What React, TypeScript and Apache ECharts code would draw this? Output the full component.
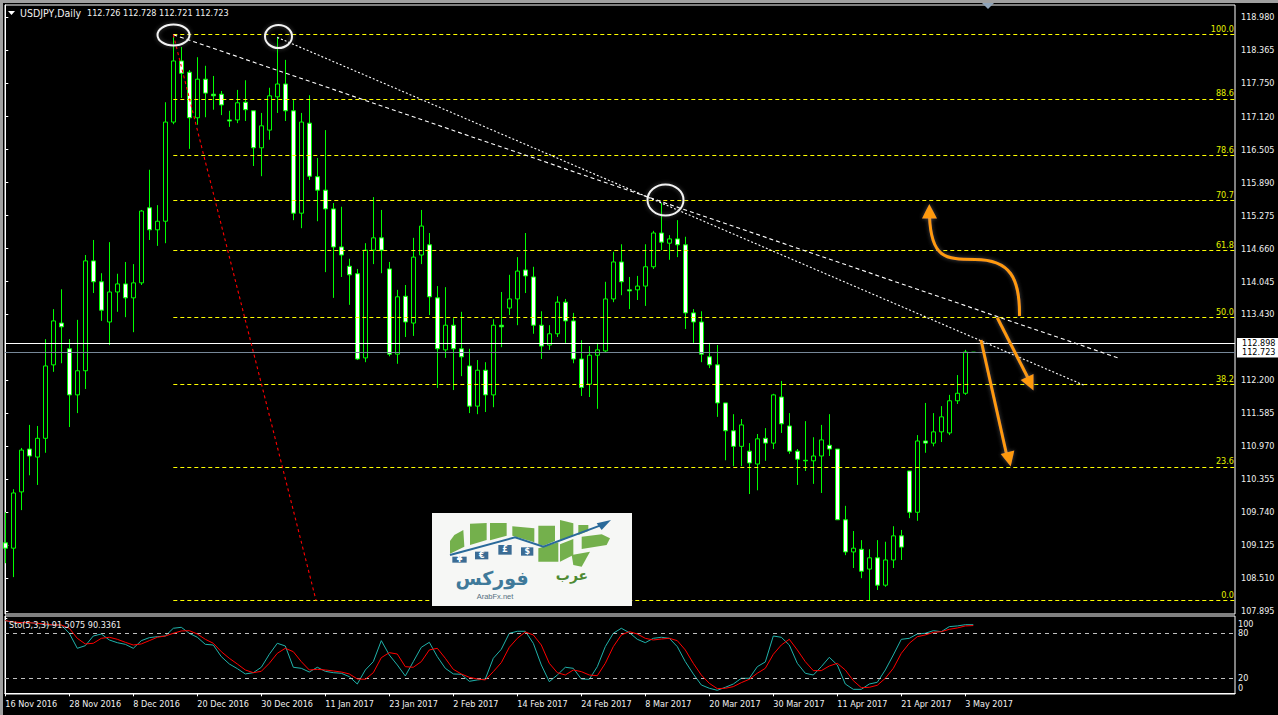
import React, { useEffect, useRef } from "react";
import * as echarts from "echarts";

const dateTicks = ["16 Nov 2016","28 Nov 2016","8 Dec 2016","20 Dec 2016","30 Dec 2016","11 Jan 2017","23 Jan 2017","2 Feb 2017","14 Feb 2017","24 Feb 2017","8 Mar 2017","20 Mar 2017","30 Mar 2017","11 Apr 2017","21 Apr 2017","3 May 2017"];
const priceTicks = [118.98,118.365,117.75,117.12,116.505,115.89,115.275,114.66,114.045,113.43,112.2,111.585,110.97,110.355,109.74,109.125,108.51,107.895];
const opens = [
109.17,109.07,110.12,110.92,110.77,111.12,112.49,113.27,112.79,111.93,
112.38,114.43,114.04,113.29,113.85,114.00,113.74,114.02,115.42,115.01,
115.17,117.02,118.16,117.95,117.10,117.82,117.54,117.54,117.06,117.06,
117.39,117.23,116.54,116.87,117.49,117.73,117.23,115.32,117.00,116.00,
115.75,115.40,114.69,114.33,114.19,112.62,114.63,114.86,114.28,112.69,
113.77,113.27,114.54,114.73,113.74,112.77,113.23,112.79,112.47,111.72,
112.39,111.93,113.23,113.55,113.72,114.26,114.13,113.23,112.86,113.07,
113.66,113.31,112.60,112.13,112.67,112.75,113.72,114.41,113.89,113.89,
113.96,114.32,114.95,114.76,114.84,114.73,113.46,113.29,112.64,112.49,
111.78,111.26,110.97,110.88,110.64,111.12,111.03,111.89,111.35,110.88,
110.71,110.70,110.79,110.99,110.92,109.60,109.00,109.05,108.68,108.89,
108.38,108.85,109.30,110.51,109.74,111.07,111.03,111.24,111.22,111.82,
111.96,112.726];
const closes = [
109.07,110.10,110.90,110.79,111.12,112.47,113.31,113.20,111.93,112.38,
114.43,114.04,113.51,113.85,114.00,113.74,114.02,115.36,115.01,115.17,
117.02,118.16,117.93,117.10,117.82,117.56,117.51,117.34,117.04,117.38,
117.25,116.54,116.95,117.51,117.73,117.23,115.32,117.02,116.01,115.75,
115.40,114.69,114.54,114.17,112.60,114.63,114.86,114.63,112.69,113.76,
113.29,114.50,115.08,113.76,112.79,113.23,112.79,112.64,111.72,112.39,
111.93,113.23,113.20,113.72,114.24,114.15,113.23,112.84,113.07,113.66,
113.31,112.60,112.07,112.67,112.77,113.72,114.41,114.04,113.87,113.96,
114.32,114.95,114.78,114.84,114.73,113.46,113.29,112.69,112.49,111.78,
111.26,110.97,111.37,110.66,111.11,111.03,111.93,111.39,110.88,110.73,
110.70,110.79,111.09,110.92,109.60,109.00,109.07,108.64,108.89,108.38,
108.85,109.30,109.09,109.74,111.07,111.03,111.24,111.52,111.82,111.96,
112.73,112.723];
const lows = [
108.79,108.53,109.78,110.43,110.25,110.85,112.36,112.52,111.33,111.59,
112.04,113.83,113.31,112.86,113.48,113.38,113.10,113.98,114.82,114.71,
114.76,116.98,117.47,116.52,116.97,117.11,117.25,117.15,116.93,117.00,
117.04,116.20,116.01,116.69,117.19,117.04,115.19,115.04,115.94,115.17,
114.22,113.74,114.13,113.61,112.58,112.54,114.37,114.20,112.65,112.51,
113.01,113.03,114.37,113.42,112.06,112.62,112.02,112.28,111.59,111.57,
111.61,111.70,112.82,113.42,113.23,113.83,113.07,112.60,112.77,113.01,
112.90,112.52,111.91,111.89,111.67,112.73,113.66,113.79,113.53,113.70,
113.59,114.28,114.63,114.45,114.50,113.16,112.90,112.54,112.43,111.52,
110.71,110.60,110.60,110.08,110.15,110.70,110.92,111.22,110.83,110.25,
110.51,110.27,110.10,110.79,109.60,108.94,108.70,108.51,108.10,108.29,
108.35,108.70,108.85,109.63,109.58,110.85,110.97,111.05,111.18,111.76,
111.93,112.721];
const highs = [
109.74,110.17,110.94,111.37,111.35,112.97,113.53,113.90,112.97,113.33,
114.54,114.82,114.20,114.78,114.19,114.41,114.37,115.38,116.13,115.47,
117.39,118.66,118.42,117.99,118.23,118.07,117.88,117.60,117.23,117.62,
117.80,117.23,117.19,117.66,118.61,118.18,117.43,117.19,117.52,116.35,
116.87,115.51,115.44,114.47,114.28,114.76,115.62,115.38,114.41,113.89,
113.98,114.86,115.38,114.95,113.96,113.94,113.36,113.48,112.79,112.58,
112.54,113.34,113.85,114.17,114.50,114.95,114.32,113.49,113.23,113.77,
113.72,113.46,112.95,112.84,112.90,114.04,114.60,114.74,114.13,114.15,
114.74,114.99,115.51,114.91,115.19,114.88,113.53,113.49,112.90,112.86,
111.78,111.57,111.48,111.03,111.20,111.31,111.95,112.19,111.59,110.92,
111.44,111.14,111.37,111.57,110.92,109.86,109.39,109.22,109.05,109.22,
109.19,109.48,109.41,110.51,111.18,111.78,111.59,111.72,111.93,112.30,
112.77,112.728];
const stoMain = [
96.9,94.2,94.2,94.2,93.3,91.1,91.1,91.1,80,60,
63.5,76.4,79.1,71.1,67.5,65.3,60,70.2,74.2,75.5,
76.4,86.7,88,80,74.7,65.3,64.4,48.9,39.1,32.9,
25.8,27.5,34.7,52,66.7,63.1,34.7,33.3,28.4,34.7,
29.3,27.5,26.7,22.2,12.4,31.1,42.2,70.2,51.1,37.8,
23.1,42.2,61.3,68,48.9,33.3,25.8,25.3,16,17.8,
19.1,46.7,58.7,80,82.7,82.7,66.7,37.8,15.5,24.4,
34.7,33.3,19.1,18.7,35.5,62.2,80,86.7,80.9,72,
67.5,73.3,74.7,73.3,62.2,42.2,25.8,11.1,6.7,4,
8,12.4,20,20,35.5,41.8,76.4,74.7,64.4,40,
26.7,24.4,35.5,48,37.8,12.4,5.3,5.3,12.4,14.7,
31.1,51.1,72,73.3,79.1,80,83.5,82.2,88.9,89.8,
91.5,91.5075];
const stoSignal = [
96.9,95.1,94.2,94.2,93.3,92.4,91.1,91.1,86.7,73.3,
65.8,66.7,73.3,74.7,72,68,64.4,65.8,70.2,74.7,
76.4,80,83.1,83.5,79.1,72,66.7,55.5,46.7,39.1,
31.1,27.5,29.3,40,53.3,60,55.5,42.2,31.1,32,
31.1,29.8,28.4,25.8,19.1,18.7,27.5,47.5,54.2,52.4,
35.5,34.7,42.2,57.8,60,46.7,32,25.8,21.3,19.1,
17.8,28.9,40.9,61.3,73.3,81.8,77.8,64.4,40,27.5,
24.4,31.1,28.9,24.4,23.5,40,62.2,77.8,82.2,79.1,
73.3,71.1,72.4,73.3,70.2,57.8,40,24.4,13.3,6.2,
6.7,8.9,14.2,18.7,26.7,33.3,52,64.4,72,57.8,
42.2,30.2,30.2,36.4,40,31.1,16.9,7.5,8,10.7,
20,33.3,53.3,66.7,75.5,77.8,81.3,82.2,85.3,87.1,
89.8,90.3361];
const fibRatios = [100.0,88.6,78.6,70.7,61.8,50.0,38.2,23.6,0.0];
const fibHigh = 118.657;
const fibLow = 108.097;
const fibStart = 21;
const stoTickTexts = ["100","80","20","0"];
const stoLabelSpots = [92.5,80,20,7.5];
const stoTicks = [100,80,20,0];
const stoLevels = [80,20];
const trendOne = [[21,118.65],[139.1,112.62]];
const trendTwo = [[34,118.60],[135,112.10]];
const redLine = [[21,118.65],[38.84,108.097]];

const xMin = -0.0375;
const xMax = 153.7125;
const FONT = "'DejaVu Sans Condensed', 'DejaVu Sans', sans-serif";
const SIZE = 9;
const TEXT = "#f0f0f0";
const GREEN = "#00ff00";
const ORANGE = "#ff9a0a";
const LEAF = "#74b04c";

const Z = (zx: number, zy: number) => [425 + zx / 3, 505 + zy / 3];
const poly = (pts: number[][], fill: string) => ({
  type: "polygon", z: 30, silent: true,
  shape: { points: pts.map((p) => Z(p[0], p[1])) }, style: { fill },
});
const tile = (x0: number, y0: number, x1: number, y1: number, t: string) => {
  const a = Z(x0, y0), b = Z(x1, y1);
  return [
    { type: "rect", z: 30, silent: true, shape: { x: a[0], y: a[1], width: b[0] - a[0], height: b[1] - a[1] }, style: { fill: "#3b6c94" } },
    { type: "text", z: 31, silent: true, x: (a[0] + b[0]) / 2, y: (a[1] + b[1]) / 2, style: { text: t, fill: "#fff", font: "bold 8px 'DejaVu Sans'", align: "center", verticalAlign: "middle" } },
  ];
};
const glow = { shadowBlur: 4, shadowColor: "rgba(150,150,150,0.5)" };
const arrowLine = (x1: number, y1: number, x2: number, y2: number) => ({
  type: "line", z: 20, silent: true, shape: { x1, y1, x2, y2 }, style: { stroke: ORANGE, lineWidth: 3, ...glow },
});
const head = (pts: number[][]) => ({
  type: "polygon", z: 21, silent: true, shape: { points: pts }, style: { fill: ORANGE, ...glow },
});
const ring = (cx: number, cy: number, rx: number, ry: number) => ({
  type: "ellipse", z: 20, silent: true, shape: { cx, cy, rx, ry }, style: { fill: "none", stroke: "#f2f2f2", lineWidth: 2, ...glow },
});

export default function App() {
  const ref = useRef<HTMLDivElement>(null);
  useEffect(() => {
    document.body.style.margin = "0";
    document.body.style.background = "#000";
    const chart = echarts.init(ref.current!, undefined, { renderer: "svg" });
    const xBase = { type: "value", min: xMin, max: xMax, splitLine: { show: false } };
    const dotted = (name: string, data: number[][], color: string, dash: number[]) => ({
      type: "line", name, data, xAxisIndex: 0, yAxisIndex: 0, symbol: "none", silent: true, z: 6,
      lineStyle: { color, width: 1.1, type: dash },
    });
    const option: any = {
      animation: false,
      backgroundColor: "#000",
      tooltip: { show: false },
      grid: [
        { left: 5, top: 5, width: 1230, height: 609, show: true, borderColor: "#fff", borderWidth: 1, backgroundColor: "#000" },
        { left: 5, top: 616, width: 1230, height: 78, show: true, borderColor: "#fff", borderWidth: 1, backgroundColor: "#000" },
      ],
      xAxis: [
        { ...xBase, gridIndex: 0, axisLine: { show: false }, axisTick: { show: false }, axisLabel: { show: false } },
        {
          ...xBase, gridIndex: 1, position: "bottom",
          axisLine: { show: true, lineStyle: { color: "#fff" } },
          axisTick: { show: true, length: 3, inside: false, lineStyle: { color: "#fff" }, customValues: dateTicks.map((_, i) => i * 8) },
          axisLabel: {
            show: true, color: TEXT, fontFamily: FONT, fontSize: SIZE, margin: 5, align: "left",
            customValues: dateTicks.map((_, i) => i * 8),
            formatter: (v: number) => dateTicks[Math.round(v / 8)] ?? "",
          },
        },
      ],
      yAxis: [
        {
          type: "value", gridIndex: 0, position: "right", min: 107.842, max: 119.204, scale: true, splitLine: { show: false },
          axisLine: { show: true, lineStyle: { color: "#fff" } },
          axisTick: { show: true, length: 3, lineStyle: { color: "#fff" }, customValues: priceTicks },
          axisLabel: {
            show: true, color: TEXT, fontFamily: FONT, fontSize: SIZE, margin: 6,
            customValues: priceTicks, formatter: (v: number) => v.toFixed(3),
          },
        },
        {
          type: "value", gridIndex: 1, position: "right", min: -0.93, max: 103.07, splitLine: { show: false },
          axisLine: { show: true, lineStyle: { color: "#fff" } },
          axisTick: { show: true, length: 2, lineStyle: { color: "#fff" }, customValues: stoTicks },
          axisLabel: {
            show: true, color: TEXT, fontFamily: FONT, fontSize: SIZE, margin: 3,
            customValues: stoLabelSpots,
            formatter: (v: number) => stoTickTexts[stoLabelSpots.indexOf(v)] ?? "",
          },
        },
      ],
      series: [
        {
          type: "candlestick", name: "USDJPY", xAxisIndex: 0, yAxisIndex: 0, barWidth: 4, z: 3,
          layout: "horizontal",
          encode: { x: 0, y: [1, 2, 3, 4] },
          itemStyle: { color: "#000", color0: "#fff", borderColor: GREEN, borderColor0: GREEN, borderColorDoji: GREEN, borderWidth: 1 },
          data: opens.map((o, i) => [i, o, closes[i], lows[i], highs[i]]),
          markLine: {
            silent: true, symbol: "none", animation: false,
            data: [
              ...fibRatios.map((r) => {
                const price = fibLow + ((fibHigh - fibLow) * r) / 100;
                return [
                  {
                    coord: [fibStart, price],
                    lineStyle: { color: "#ffff00", width: 1, type: [4, 3] },
                    label: {
                      show: true, position: "insideEndTop", distance: 1, color: "#e4f000", fontFamily: FONT, fontSize: SIZE,
                      formatter: r.toFixed(1),
                    },
                  },
                  { coord: [xMax, price] },
                ];
              }),
              ...[
                { v: 112.898, c: "#ffffff" },
                { v: 112.723, c: "#778899" },
              ].map((l) => [
                {
                  coord: [xMin, l.v],
                  lineStyle: { color: l.c, width: 1, type: "solid" },
                  label: {
                    show: true, position: "end", distance: 2, color: "#000", backgroundColor: "#fff",
                    fontFamily: FONT, fontSize: SIZE, padding: [1, 5, 0, 5], formatter: l.v.toFixed(3),
                  },
                },
                { coord: [xMax, l.v] },
              ]),
            ],
          },
        },
        dotted("Trend A", trendOne, "#ffffff", [4, 3]),
        dotted("Trend B", trendTwo, "#ffffff", [2, 2]),
        dotted("Fibo base", redLine, "#ff0000", [3, 3]),
        {
          type: "line", name: "Sto main", xAxisIndex: 1, yAxisIndex: 1, symbol: "none", silent: true, z: 4,
          lineStyle: { color: "#20b2aa", width: 1 },
          data: stoMain.map((v, i) => [i, v]),
          markLine: {
            silent: true, symbol: "none", animation: false, label: { show: false },
            lineStyle: { color: "#c0c0c0", width: 1, type: [4, 4] },
            data: stoLevels.map((v) => [{ coord: [xMin, v] }, { coord: [xMax, v] }]),
          },
        },
        {
          type: "line", name: "Sto signal", xAxisIndex: 1, yAxisIndex: 1, symbol: "none", silent: true, z: 5,
          lineStyle: { color: "#ff0000", width: 1 },
          data: stoSignal.map((v, i) => [i, v]),
        },
      ],
      graphic: [
        { type: "rect", z: 50, silent: true, shape: { x: 0, y: 0, width: 1278, height: 3 }, style: { fill: "#a0a0a0" } },
        { type: "rect", z: 50, silent: true, shape: { x: 0, y: 0, width: 3, height: 715 }, style: { fill: "#a0a0a0" } },
        { type: "polygon", z: 51, silent: true, shape: { points: [[982, 3], [994, 3], [988, 9]] }, style: { fill: "#8fa3b8" } },
        { type: "polygon", z: 40, silent: true, shape: { points: [[8, 11], [15, 11], [11.5, 15]] }, style: { fill: "#fff" } },
        { type: "text", z: 40, silent: true, x: 20, y: 12.5, style: { text: "USDJPY,Daily", fill: TEXT, font: `10.5px ${FONT}`, verticalAlign: "middle" } },
        { type: "text", z: 40, silent: true, x: 87, y: 12.5, style: { text: "112.726 112.728 112.721 112.723", fill: TEXT, font: `${SIZE}px ${FONT}`, verticalAlign: "middle" } },
        { type: "text", z: 40, silent: true, x: 9, y: 625, style: { text: "Sto(5,3,3) 91.5075 90.3361", fill: TEXT, font: `${SIZE}px ${FONT}`, verticalAlign: "middle" } },
        ring(173.5, 35, 16, 10.5),
        ring(278.5, 36.5, 13.5, 11.5),
        ring(665.5, 200, 18, 15.5),
        { type: "bezierCurve", z: 20, silent: true, shape: { x1: 1019.5, y1: 316, x2: 975, y2: 259.5, cpx1: 1020, cpy1: 278, cpx2: 1010, cpy2: 259.5 }, style: { stroke: ORANGE, lineWidth: 3, fill: "none", ...glow } },
        { type: "bezierCurve", z: 20, silent: true, shape: { x1: 975, y1: 259.5, x2: 929.5, y2: 216, cpx1: 945, cpy1: 259.5, cpx2: 931, cpy2: 258 }, style: { stroke: ORANGE, lineWidth: 3, fill: "none", ...glow } },
        head([[929.3, 204], [922, 218.5], [937, 218.5]]),
        arrowLine(997.3, 317.7, 1028, 378),
        head([[1033.5, 390.5], [1020.7, 380], [1033.5, 374]]),
        arrowLine(981, 340, 1006.7, 455),
        head([[1010.7, 466.5], [1000.7, 454], [1014.3, 450.5]]),
        // Logo
        { type: "rect", z: 29, silent: true, shape: { x: 432, y: 513, width: 200, height: 93 }, style: { fill: "#f6f7f5" } },
        poly([[75, 108], [88, 90], [115, 75], [118, 125], [75, 146]], LEAF),
        poly([[135, 56], [185, 54], [185, 105], [135, 120]], LEAF),
        poly([[195, 54], [245, 54], [245, 92], [195, 106]], LEAF),
        poly([[262, 64], [328, 70], [328, 112], [262, 92]], LEAF),
        poly([[340, 62], [390, 62], [390, 108], [355, 122], [340, 118]], LEAF),
        poly([[340, 130], [400, 112], [400, 170], [340, 170]], LEAF),
        poly([[405, 45], [445, 55], [445, 92], [405, 108]], LEAF),
        poly([[405, 118], [445, 102], [445, 150], [405, 170]], LEAF),
        poly([[460, 60], [490, 60], [490, 78], [460, 90]], LEAF),
        poly([[470, 95], [530, 88], [555, 100], [545, 120], [470, 132]], LEAF),
        poly([[440, 150], [495, 140], [470, 185], [445, 180]], LEAF),
        { type: "polyline", z: 31, silent: true, shape: { points: [Z(75, 150), Z(270, 97), Z(355, 125), Z(535, 58)] }, style: { stroke: "#2a6a9a", lineWidth: 2, fill: "none" } },
        { type: "polygon", z: 31, silent: true, shape: { points: [Z(558, 45), Z(515, 55), Z(530, 75)] }, style: { fill: "#2a6a9a" } },
        ...tile(82, 155, 125, 173, "¥"),
        ...tile(150, 140, 190, 163, "€"),
        ...tile(220, 120, 260, 149, "£"),
        ...tile(288, 127, 325, 152, "$"),
        { type: "text", z: 32, silent: true, x: 572, y: 575, style: { text: "عرب", fill: "#4e8a33", font: "bold 14px 'DejaVu Sans'", align: "center", verticalAlign: "middle" } },
        { type: "text", z: 32, silent: true, x: 492, y: 578, style: { text: "فوركس", fill: "#3f7a9a", font: "bold 19px 'DejaVu Sans'", align: "center", verticalAlign: "middle" } },
        { type: "text", z: 33, silent: true, x: 495, y: 596, style: { text: "ArabFx.net", fill: "#55707f", font: "7.5px 'Liberation Sans'", align: "center", verticalAlign: "middle" } },
      ],
    };
    chart.setOption(option);
    return () => chart.dispose();
  }, []);
  return <div ref={ref} style={{ position: "absolute", left: 0, top: 0, width: 1278, height: 715, background: "#000" }} />;
}
